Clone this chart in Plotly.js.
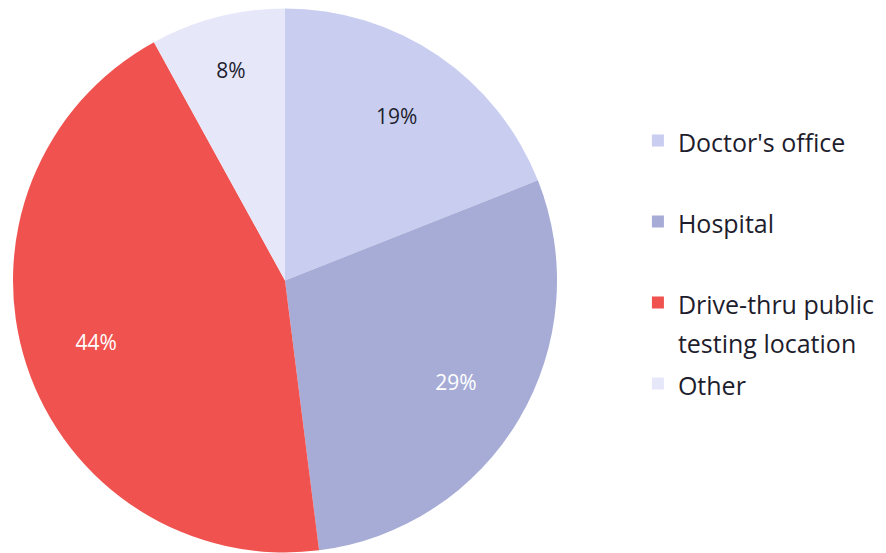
<!DOCTYPE html>
<html><head><meta charset="utf-8">
<script src="https://cdn.plot.ly/plotly-3.0.1.min.js"></script>
<style>html,body{margin:0;padding:0;background:#fff}#chart{width:886px;height:553px}</style>
</head><body><div id="chart"></div>
<script>
const categories = ["Doctor's office", "Hospital", "Drive-thru public testing location", "Other"];
const legendLines = [["Doctor's office"], ["Hospital"], ["Drive-thru public", "testing location"], ["Other"]];
const values = [19, 29, 44, 8];
const colors = ["#c9cef1", "#a7acd7", "#f0524f", "#e6e8fa"];
const textColors = ["#1e1d2d", "#ffffff", "#ffffff", "#1e1d2d"];
const FONT = '"Open Sans", "Noto Sans", sans-serif';
const dom = {x: [13/886, 557/886], y: [0, 545/553]};

// legend labels: each entry occupies two legend lines so slots are equal
const legendLabels = legendLines.map((lines, i) => {
  const txt = lines.map(l => '<span style="font-size:25px">' + l + '</span>');
  if (i < legendLines.length - 1) while (txt.length < 2) txt.push('&nbsp;');
  return txt.join('<br>');
});

const pieTrace = {
  type: 'pie',
  labels: legendLabels,
  values: values,
  sort: false,
  direction: 'clockwise',
  rotation: 0,
  marker: {colors: colors, line: {width: 0}},
  textinfo: 'none',
  hoverinfo: 'none',
  domain: dom
};
const labelTrace = {
  type: 'pie',
  labels: categories,
  values: values,
  sort: false,
  direction: 'clockwise',
  rotation: 0,
  hole: 0.46,
  showlegend: false,
  marker: {colors: values.map(() => 'rgba(0,0,0,0)'), line: {width: 0}},
  textinfo: 'percent',
  textposition: 'inside',
  insidetextorientation: 'horizontal',
  insidetextfont: {family: FONT, size: 21, color: textColors},
  hoverinfo: 'none',
  domain: dom
};
const layout = {
  width: 886, height: 553,
  margin: {l: 0, r: 0, t: 0, b: 0},
  paper_bgcolor: '#ffffff',
  showlegend: true,
  legend: {
    x: 0.72, y: 0.793, xanchor: 'left', yanchor: 'top',
    font: {family: FONT, size: 30, color: '#1e1d2d'},
    valign: 'top', itemwidth: 30
  },
  font: {family: FONT}
};
Plotly.newPlot('chart', [pieTrace, labelTrace], layout, {displayModeBar: false, staticPlot: true});
</script></body></html>
